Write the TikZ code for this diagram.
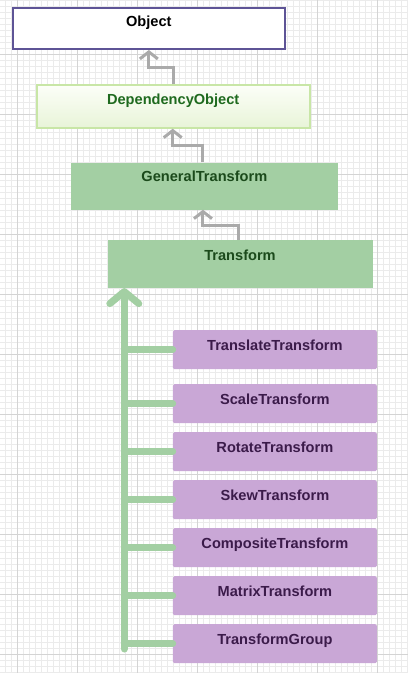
\documentclass[tikz,border=0pt]{standalone}
\usepackage{fontspec}
\setmainfont{Liberation Sans}
\usetikzlibrary{arrows.meta}
\definecolor{gridminor}{HTML}{EBEBEB}
\definecolor{gridmajor}{HTML}{D4D4D4}
\definecolor{objborder}{HTML}{5E5496}
\definecolor{doborder}{HTML}{C8E6A6}
\definecolor{dotop}{HTML}{FCFEF8}
\definecolor{dobottom}{HTML}{E8F4D8}
\definecolor{dotext}{HTML}{1F6A1F}
\definecolor{greenfill}{HTML}{A3CFA3}
\definecolor{greentext}{HTML}{1B4A1B}
\definecolor{purplefill}{HTML}{C9A7D6}
\definecolor{purpletext}{HTML}{3B1B4A}
\definecolor{arrowgray}{HTML}{AAAAAA}
\tikzset{
  boxbase/.style={anchor=north west, inner sep=0pt, text height=10pt,
    font=\bfseries\fontsize{14.6}{16}\selectfont},
  objbox/.style={boxbase, draw=objborder, line width=2pt, fill=white,
    minimum width=272.3pt, minimum height=41.3pt, text depth=14.7pt},
  dobox/.style={boxbase, draw=doborder, line width=2pt, top color=dotop, bottom color=dobottom,
    minimum width=273pt, minimum height=42.4pt, text depth=15pt, text=dotext},
  greenbox/.style={boxbase, fill=greenfill, text=greentext},
  purplebox/.style={boxbase, fill=purplefill, text=purpletext, rounded corners=1.5pt,
    minimum width=204pt, minimum height=39pt, text depth=9pt},
  garr/.style={draw=arrowgray, line width=3pt, -{Straight Barb[length=7pt,width=18pt]}},
  trunkline/.style={draw=greenfill, line width=7pt, line cap=round, line join=round},
  trunkarrow/.style={trunkline, -{Straight Barb[length=12pt,width=29pt,line cap=round,line join=round]}},
}
\begin{document}
\begin{tikzpicture}[x=1pt,y=-1pt]
\useasboundingbox (0,0) rectangle (408,673);
% background grid
\foreach \x in {5.3,11.3,...,408} \draw[gridminor, line width=0.7pt] (\x,0) -- (\x,673);
\foreach \y in {0,6,...,673} \draw[gridminor, line width=0.7pt] (0,\y) -- (408,\y);
\foreach \x in {17.3,77.3,...,408} \draw[gridmajor, line width=0.7pt] (\x,0) -- (\x,673);
\foreach \y in {54,114,...,673} \draw[gridmajor, line width=0.7pt] (0,\y) -- (408,\y);

% class boxes
\node[objbox] (obj) at (11.7,6.7) {Object};
\node[dobox] (do) at (35.7,84.3) {DependencyObject};
\node[greenbox, minimum width=266.3pt, minimum height=47pt, text depth=18.2pt] (gt) at (71,162.3) {GeneralTransform};
\node[greenbox, minimum width=265pt, minimum height=47.7pt, text depth=17.7pt] (tr) at (107.3,240) {Transform};
\node[purplebox] (tt) at (172.7,330) {TranslateTransform};
\node[purplebox] (st) at (172.7,384) {ScaleTransform};
\node[purplebox] (rt) at (172.7,432) {RotateTransform};
\node[purplebox] (skt) at (172.7,480) {SkewTransform};
\node[purplebox] (ct) at (172.7,528) {CompositeTransform};
\node[purplebox] (mt) at (172.7,576) {MatrixTransform};
\node[purplebox] (tg) at (172.7,624) {TransformGroup};

% inheritance arrows
\draw[garr] ([xshift=0.5pt]do.north) -- ++(0,-16.5) -| (obj.south);
\draw[garr] ([xshift=-1.4pt]gt.north) -- ++(0,-17.3) -| ([xshift=-0.5pt]do.south);
\draw[garr] ([xshift=-1.5pt]tr.north) -- ++(0,-14.3) -| ([xshift=-1.4pt]gt.south);

% green trunk
\coordinate (trunk) at (124.3,649);
\draw[trunkline] (tt.west) -- (tt.west -| trunk);
\draw[trunkline] (st.west) -- (st.west -| trunk);
\draw[trunkline] (rt.west) -- (rt.west -| trunk);
\draw[trunkline] (skt.west) -- (skt.west -| trunk);
\draw[trunkline] (ct.west) -- (ct.west -| trunk);
\draw[trunkline] (mt.west) -- (mt.west -| trunk);
\draw[trunkline] (tg.west) -- (tg.west -| trunk);
\draw[trunkarrow] (trunk) -- (trunk |- tr.south);
\end{tikzpicture}
\end{document}
